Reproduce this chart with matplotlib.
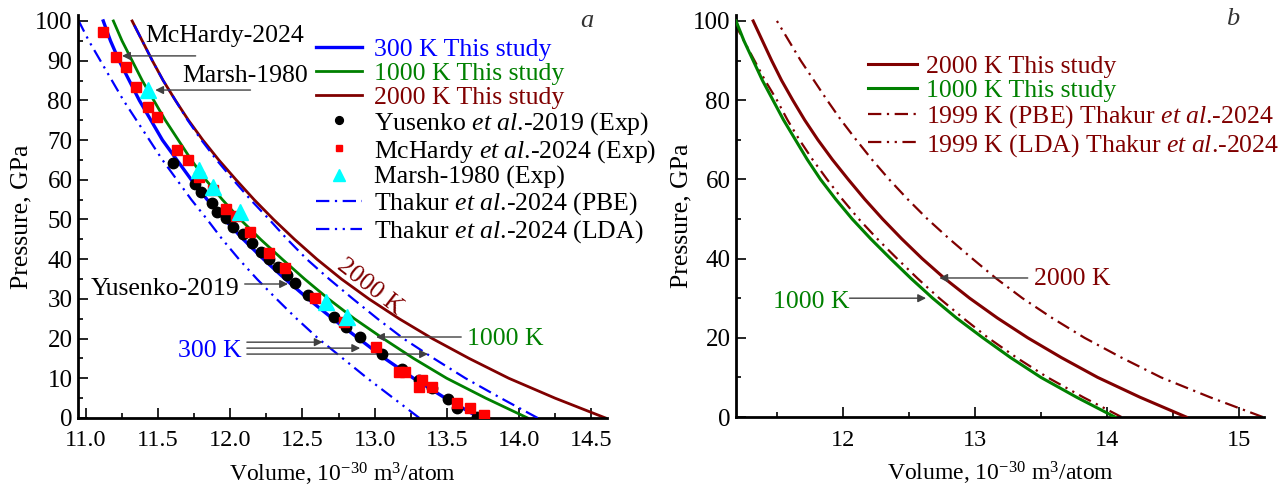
import matplotlib
matplotlib.use("Agg")
import matplotlib.pyplot as plt
from matplotlib.lines import Line2D
from matplotlib.ticker import MultipleLocator, FormatStrFormatter

plt.rcParams["font.family"] = ["Liberation Serif", "DejaVu Serif"]
plt.rcParams["mathtext.fontset"] = "custom"
plt.rcParams["mathtext.rm"] = "Liberation Serif"
plt.rcParams["mathtext.it"] = "Liberation Serif:italic"

BLUE = "#0000ff"
GREEN = "#008000"
MAROON = "#800000"

# pressure grid (GPa) on which the curves were read
P_grid = [0, 5, 10, 15, 20, 25, 30, 35, 40, 45, 50, 55, 60, 65, 70, 75, 80, 85, 90, 95, 100]

# volumes (1e-30 m^3/atom)
V300 = [13.73, 13.49, 13.27, 13.07, 12.89, 12.71, 12.54, 12.38, 12.23, 12.09, 11.96,
        11.84, 11.73, 11.63, 11.53, 11.45, 11.37, 11.30, 11.23, 11.17, 11.12]
V1000 = [14.06, 13.77, 13.50, 13.27, 13.06, 12.86, 12.68, 12.515, 12.36, 12.21, 12.07,
         11.945, 11.83, 11.73, 11.64, 11.55, 11.47, 11.39, 11.32, 11.25, 11.19]
V2000 = [14.60, 14.25, 13.93, 13.655, 13.40, 13.17, 12.96, 12.77, 12.60, 12.445, 12.30,
         12.165, 12.04, 11.92, 11.81, 11.71, 11.62, 11.535, 11.46, 11.39, 11.32]
V_pbe300 = [14.13, 13.875, 13.63, 13.41, 13.20, 13.02, 12.85, 12.685, 12.53, 12.395, 12.27,
            12.14, 12.02, 11.905, 11.80, 11.705, 11.62, 11.535, 11.46, 11.39, 11.32]
V_lda300 = [13.31, 13.13, 12.95, 12.78, 12.61, 12.46, 12.32, 12.185, 12.06, 11.945, 11.84,
            11.73, 11.63, 11.53, 11.44, 11.35, 11.26, 11.18, 11.10, 11.02, 10.95]
V_pbe1999 = [15.18, 14.78, 14.41, 14.11, 13.83, 13.585, 13.36, 13.16, 12.98, 12.805, 12.64,
             12.49, 12.35, 12.22, 12.10, 11.985, 11.88, 11.78, 11.68, 11.59, 11.50]
V_lda1999 = [14.11, 13.82, 13.55, 13.315, 13.10, 12.91, 12.73, 12.565, 12.41, 12.26, 12.12,
             11.995, 11.88, 11.77, 11.67, 11.58, 11.50, 11.41, 11.33, 11.25, 11.17]

# experiments
yus_V = [11.60, 11.755, 11.80, 11.87, 11.91, 11.97, 12.02, 12.09, 12.15, 12.21, 12.27, 12.33,
         12.39, 12.45, 12.54, 12.72, 12.80, 12.90, 13.05, 13.19, 13.31, 13.40, 13.51, 13.57, 13.71]
yus_P = [64.2, 58.9, 56.9, 54.2, 51.9, 50.4, 48.1, 46.3, 44.1, 41.8, 40.0, 38.0,
         36.0, 34.0, 31.0, 25.4, 22.9, 20.4, 16.1, 12.4, 9.6, 7.6, 4.8, 2.5, 0.3]
mch_V = [11.12, 11.21, 11.28, 11.35, 11.43, 11.49, 11.63, 11.71, 11.78, 11.88, 11.97, 12.04, 12.14,
         12.27, 12.38, 12.59, 12.79, 13.01, 13.17, 13.21, 13.31, 13.33, 13.40, 13.57, 13.66, 13.76]
mch_P = [97.3, 91.0, 88.5, 83.3, 78.4, 75.8, 67.4, 65.0, 60.7, 57.3, 52.6, 50.8, 46.8,
         41.5, 37.8, 30.2, 24.2, 17.9, 11.6, 11.6, 7.8, 9.6, 7.8, 3.8, 2.5, 0.8]
marsh_V = [11.43, 11.78, 11.88, 12.07, 12.66, 12.81]
marsh_P = [82.6, 62.5, 58.2, 51.9, 29.2, 25.4]

PBE_LS = (0, (6, 2.5, 1, 2.5))
LDA_LS = (0, (6, 2.5, 1, 2.5, 1, 2.5))

W, H = 1287, 488
fig = plt.figure(figsize=(W / 100, H / 100), dpi=100)


def px_axes(x0, x1, ytop, ybot):
    return fig.add_axes([x0 / W, 1 - ybot / H, (x1 - x0) / W, (ybot - ytop) / H])


def style(ax):
    for s in ["top", "right"]:
        ax.spines[s].set_visible(False)
    for s in ["left", "bottom"]:
        ax.spines[s].set_linewidth(2.0)
    ax.tick_params(which="both", direction="in", labelsize=18, width=1.2)
    ax.tick_params(which="major", length=7)
    ax.tick_params(which="minor", length=3.5)
    ax.tick_params(axis="x", pad=9, labelsize=17.5)
    ax.tick_params(axis="y", pad=4)
    ax.set_ylabel("Pressure, GPa", fontsize=18.5)
    ax.yaxis.set_label_coords(-0.087, 0.5)
    ax.set_xlabel(r"Volume, 10$^{-30}$ m$^3$/atom", fontsize=17, labelpad=7)


def arrow(ax, tail, tip):
    ax.annotate("", xy=tip, xytext=tail,
                arrowprops=dict(arrowstyle="-|>", color="0.25", lw=1.0, mutation_scale=12,
                                shrinkA=0, shrinkB=0))


TXT = 18.5

# ---------- panel a ----------
ax = px_axes(78, 607, 15, 418)
ax.plot(V_lda300, P_grid, color=BLUE, lw=1.6, ls=LDA_LS, zorder=2)
ax.plot(V300, P_grid, color=BLUE, lw=2.4, zorder=2)
ax.plot(V1000, P_grid, color=GREEN, lw=2.0, zorder=2)
ax.plot(V2000, P_grid, color=MAROON, lw=2.0, zorder=2)
ax.plot(V_pbe300, P_grid, color=BLUE, lw=1.6, ls=PBE_LS, zorder=3)
ax.plot(yus_V, yus_P, "o", color="black", ms=7.5, zorder=4)
ax.plot(mch_V, mch_P, "s", color="red", ms=6.5, zorder=5)
ax.plot(marsh_V, marsh_P, "^", color="cyan", ms=12, zorder=6)

ax.set_xlim(10.945, 14.61)
ax.set_ylim(0, 101.5)
ax.xaxis.set_major_locator(MultipleLocator(0.5))
ax.xaxis.set_minor_locator(MultipleLocator(0.25))
ax.xaxis.set_major_formatter(FormatStrFormatter("%.1f"))
ax.yaxis.set_major_locator(MultipleLocator(10))
ax.yaxis.set_minor_locator(MultipleLocator(5))
style(ax)

handles = [
    Line2D([], [], color=BLUE, lw=2.4),
    Line2D([], [], color=GREEN, lw=2.0),
    Line2D([], [], color=MAROON, lw=2.0),
    Line2D([], [], color="black", marker="o", ls="none", ms=7.5),
    Line2D([], [], color="red", marker="s", ls="none", ms=6.5),
    Line2D([], [], color="cyan", marker="^", ls="none", ms=12),
    Line2D([], [], color=BLUE, lw=1.6, ls=PBE_LS),
    Line2D([], [], color=BLUE, lw=1.6, ls=LDA_LS),
]
labels = [
    "300 K This study", "1000 K This study", "2000 K This study",
    r"Yusenko $\mathit{et\ al}$.-2019 (Exp)", r"McHardy $\mathit{et\ al}$.-2024 (Exp)",
    "Marsh-1980 (Exp)",
    r"Thakur $\mathit{et\ al}$.-2024 (PBE)", r"Thakur $\mathit{et\ al}$.-2024 (LDA)",
]
leg = ax.legend(handles, labels, loc="upper left", bbox_to_anchor=(316 / W, 1 - 38 / H),
                bbox_transform=fig.transFigure, frameon=False, fontsize=TXT,
                handlelength=1.8, handletextpad=0.45, labelspacing=0.04, borderpad=0,
                borderaxespad=0, markerscale=0.75)
for t, c in zip(leg.get_texts(), [BLUE, GREEN, MAROON] + ["black"] * 5):
    t.set_color(c)

ax.text(11.41, 94.8, "McHardy-2024", fontsize=TXT)
arrow(ax, (11.76, 91.2), (11.25, 91.2))
ax.text(11.665, 84.6, "Marsh-1980", fontsize=TXT)
arrow(ax, (12.14, 82.6), (11.48, 82.6))
ax.text(11.03, 31.0, "Yusenko-2019", fontsize=TXT)
arrow(ax, (12.10, 33.75), (12.40, 33.75))
ax.text(11.64, 15.4, "300 K", fontsize=TXT, color=BLUE)
arrow(ax, (12.115, 19.1), (12.64, 19.1))
arrow(ax, (12.115, 17.6), (12.90, 17.6))
arrow(ax, (12.115, 16.1), (13.37, 16.1))
ax.text(13.64, 18.4, "1000 K", fontsize=TXT, color=GREEN)
arrow(ax, (13.60, 20.4), (13.01, 20.4))
ax.text(12.97, 33.0, "2000 K", fontsize=TXT, color=MAROON, rotation=-38,
        ha="center", va="center", rotation_mode="anchor")
ax.text(0.962, 0.985, "a", transform=ax.transAxes, fontsize=19, style="italic",
        ha="center", va="center", color="0.2")

# ---------- panel b ----------
bx = px_axes(736, 1264, 15, 417)
bx.plot(V_lda1999, P_grid, color=MAROON, lw=1.6, ls=LDA_LS, zorder=2)
bx.plot(V_pbe1999, P_grid, color=MAROON, lw=1.6, ls=PBE_LS, zorder=2)
bx.plot(V1000, P_grid, color=GREEN, lw=2.2, zorder=3)
bx.plot(V2000, P_grid, color=MAROON, lw=2.2, zorder=3)

bx.set_xlim(11.19, 15.19)
bx.set_ylim(0, 101.5)
bx.xaxis.set_major_locator(MultipleLocator(1))
bx.xaxis.set_minor_locator(MultipleLocator(0.5))
bx.yaxis.set_major_locator(MultipleLocator(20))
bx.yaxis.set_minor_locator(MultipleLocator(10))
style(bx)
bx.yaxis.set_label_coords(-0.083, 0.5)

handles_b = [
    Line2D([], [], color=MAROON, lw=2.2),
    Line2D([], [], color=GREEN, lw=2.2),
    Line2D([], [], color=MAROON, lw=1.6, ls=PBE_LS),
    Line2D([], [], color=MAROON, lw=1.6, ls=LDA_LS),
]
labels_b = [
    "2000 K This study", "1000 K This study",
    r"1999 K (PBE) Thakur $\mathit{et\ al}$.-2024",
    r"1999 K (LDA) Thakur $\mathit{et\ al}$.-2024",
]
leg_b = bx.legend(handles_b, labels_b, loc="upper left", bbox_to_anchor=(868 / W, 1 - 55 / H),
                  bbox_transform=fig.transFigure, frameon=False, fontsize=TXT,
                  handlelength=1.9, handletextpad=0.35, labelspacing=0.05, borderpad=0,
                  borderaxespad=0)
for t, c in zip(leg_b.get_texts(), [MAROON, GREEN, MAROON, MAROON]):
    t.set_color(c)

bx.text(13.45, 33.3, "2000 K", fontsize=TXT, color=MAROON)
arrow(bx, (13.40, 35.1), (12.73, 35.1))
bx.text(11.47, 27.5, "1000 K", fontsize=TXT, color=GREEN)
arrow(bx, (12.05, 30.0), (12.63, 30.0))
bx.text(0.94, 0.99, "b", transform=bx.transAxes, fontsize=19, style="italic",
        ha="center", va="center", color="0.2")

fig.savefig("out.png", dpi=100)
